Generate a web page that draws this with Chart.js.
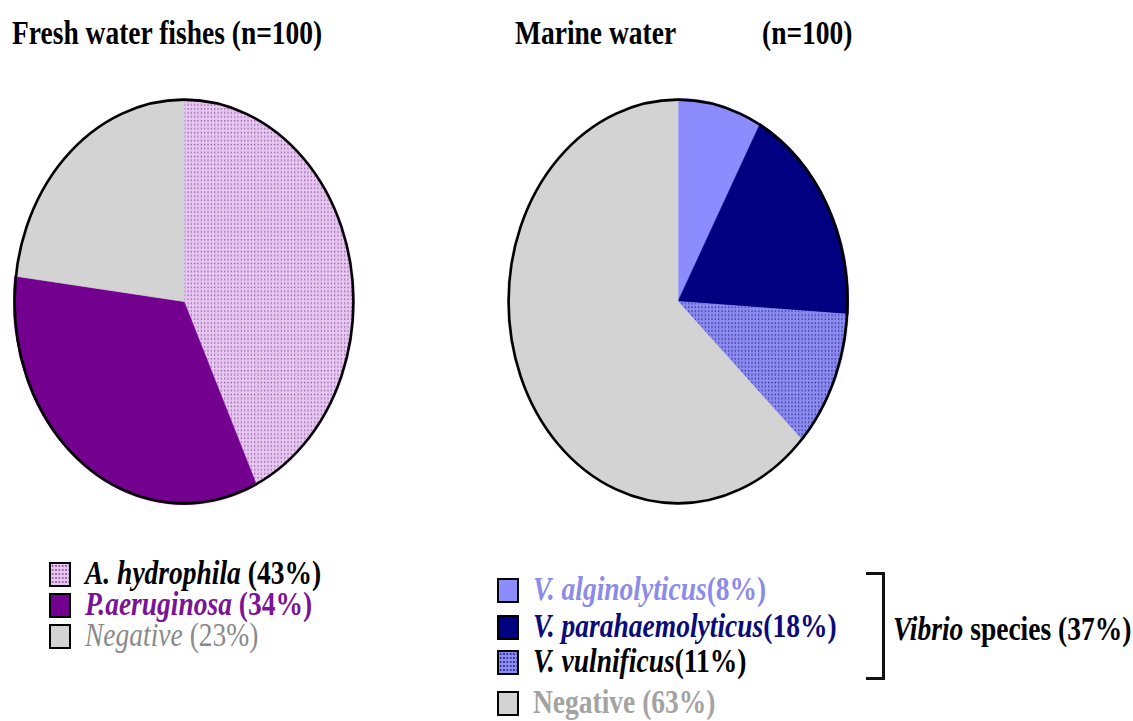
<!DOCTYPE html>
<html>
<head>
<meta charset="utf-8">
<script src="https://cdn.jsdelivr.net/npm/chart.js@4.4.1/dist/chart.umd.min.js"></script>
<style>
  html, body { margin: 0; padding: 0; background: #ffffff; }
  #stage { position: relative; width: 1133px; height: 721px; overflow: hidden; background: #fff; }
  .pie { position: absolute; top: 98px; }
  .txt {
    position: absolute; white-space: nowrap; line-height: 1;
    font-family: "Liberation Serif", "Times New Roman", Times, serif;
    font-size: 27.5px; font-weight: bold;
    transform: translateY(-50%) scaleY(1.22);
  }
  .txt i { font-style: italic; }
  .swatch {
    position: absolute; width: 18px; height: 21px; box-sizing: content-box;
    border: 2.5px solid #000;
  }
  .bracket {
    position: absolute; border: 3px solid #111; border-left: none; box-sizing: border-box;
  }
</style>
</head>
<body>
<div id="stage">
  <canvas id="fresh" class="pie" width="342" height="407" style="left:13px"></canvas>
  <canvas id="marine" class="pie" width="342" height="407" style="left:507px"></canvas>
</div>
<script>
// ---- data ----
const freshTitle = 'Fresh water fishes (n=100)';
const marineTitle = ['Marine water', '(n=100)'];

const freshLabels = ['A. hydrophila', 'P.aeruginosa', 'Negative'];
const freshValues = [43, 34, 23];

const marineLabels = ['V. alginolyticus', 'V. parahaemolyticus', 'V. vulnificus', 'Negative'];
const marineValues = [8, 18, 11, 63];

const vibrioLabel = 'Vibrio';
const vibrioTotal = 37;

// ---- fills ----
function dotPattern(bg, dot) {
  const c = document.createElement('canvas');
  c.width = 10; c.height = 10;
  const g = c.getContext('2d');
  g.fillStyle = bg; g.fillRect(0, 0, 10, 10);
  g.fillStyle = dot;
  for (let i = 0; i < 3; i++) {
    for (let j = 0; j < 3; j++) {
      g.fillRect(i * 10 / 3 + 1, j * 10 / 3 + 1, 1.4, 1.2);
    }
  }
  return g.createPattern(c, 'repeat');
}

const pinkBase = '#e8c8f3', pinkDot = '#94609f';
const blueBase = '#8c8cf2', blueDot = '#34348f';

const freshFills = [dotPattern(pinkBase, pinkDot), '#74008f', '#d3d3d3'];
const freshEdges = [pinkBase, '#74008f', '#d3d3d3'];
const marineFills = ['#8c8cff', '#000080', dotPattern(blueBase, blueDot), '#d3d3d3'];
const marineEdges = ['#8c8cff', '#000080', blueBase, '#d3d3d3'];

// Stretch the round pie into an upright ellipse filling the canvas, then outline it.
const ellipsePie = {
  id: 'ellipsePie',
  beforeDatasetsDraw(chart) {
    const arc = chart.getDatasetMeta(0).data[0];
    const k = chart.height / chart.width;
    const ctx = chart.ctx;
    ctx.save();
    ctx.translate(0, arc.y);
    ctx.scale(1, k);
    ctx.translate(0, -arc.y);
  },
  afterDatasetsDraw(chart) {
    const ctx = chart.ctx;
    ctx.restore();
    const arc = chart.getDatasetMeta(0).data[0];
    const k = chart.height / chart.width;
    const r = arc.outerRadius;
    ctx.save();
    ctx.beginPath();
    ctx.ellipse(arc.x, arc.y, r - 1.3, r * k - 1.3, 0, 0, Math.PI * 2);
    ctx.lineWidth = 2.6;
    ctx.strokeStyle = '#000';
    ctx.stroke();
    ctx.restore();
  }
};

function makePie(id, labels, values, fills, edges) {
  return new Chart(document.getElementById(id), {
    type: 'pie',
    data: {
      labels: labels,
      datasets: [{
        data: values,
        backgroundColor: fills,
        borderColor: edges,
        borderWidth: 0.6,
        hoverOffset: 0
      }]
    },
    options: {
      responsive: false,
      animation: false,
      events: [],
      layout: { padding: 0 },
      rotation: 0,
      plugins: { legend: { display: false }, tooltip: { enabled: false } }
    },
    plugins: [ellipsePie]
  });
}

makePie('fresh', freshLabels, freshValues, freshFills, freshEdges);
makePie('marine', marineLabels, marineValues, marineFills, marineEdges);

// ---- titles and legends ----
const stage = document.getElementById('stage');
function addText(html, left, cy, color, extraStyle) {
  const d = document.createElement('div');
  d.className = 'txt';
  d.innerHTML = html;
  d.style.left = left + 'px';
  d.style.top = (cy - 2) + 'px';
  d.style.color = color || '#000';
  if (extraStyle) Object.assign(d.style, extraStyle);
  stage.appendChild(d);
  return d;
}
function addSwatch(left, top, css) {
  const s = document.createElement('div');
  s.className = 'swatch';
  s.style.left = left + 'px';
  s.style.top = top + 'px';
  Object.assign(s.style, css);
  stage.appendChild(s);
}
function dotsCss(base, dot) {
  return {
    backgroundColor: base,
    backgroundImage: 'radial-gradient(circle, ' + dot + ' 0 0.7px, transparent 0.9px)',
    backgroundSize: '3.33px 4px'
  };
}

addText(freshTitle, 12, 35);
addText(marineTitle[0], 515, 35);
addText(marineTitle[1], 762, 35);

// fresh water legend
const freshText = [
  { color: '#000', italicWeight: 'bold', pctWeight: 'bold' },
  { color: '#7a1496', italicWeight: 'bold', pctWeight: 'bold' },
  { color: '#8a8a8a', italicWeight: 'normal', pctWeight: 'normal' }
];
const freshSw = [dotsCss(pinkBase, pinkDot), { background: '#74008f' }, { background: '#d3d3d3' }];
const freshRowY = [575, 606, 637];
freshLabels.forEach((lab, i) => {
  addSwatch(49, freshRowY[i] - 13, freshSw[i]);
  const st = freshText[i];
  addText('<i style="font-weight:' + st.italicWeight + '">' + lab + '</i>' +
          '<span style="font-weight:' + st.pctWeight + '"> (' + freshValues[i] + '%)</span>',
          85, freshRowY[i], st.color);
});

// marine water legend
const marineTextColor = ['#8c8ce8', '#0a0a78', '#000', '#a3a3a3'];
const marineSw = [{ background: '#8c8cff' }, { background: '#000080' }, dotsCss(blueBase, blueDot), { background: '#d3d3d3' }];
const marineRowY = [591, 628, 663, 704];
marineLabels.forEach((lab, i) => {
  addSwatch(497, marineRowY[i] - 13, marineSw[i]);
  const html = (i < 3)
    ? '<i>' + lab + '</i>(' + marineValues[i] + '%)'
    : lab + ' (' + marineValues[i] + '%)';
  addText(html, 533, marineRowY[i], marineTextColor[i]);
});

// bracket grouping the three Vibrio species
const br = document.createElement('div');
br.className = 'bracket';
Object.assign(br.style, { left: '866px', top: '572px', width: '19px', height: '108px' });
stage.appendChild(br);
addText('<i>' + vibrioLabel + '</i> species (' + vibrioTotal + '%)', 893, 631, '#000');
</script>
</body>
</html>
